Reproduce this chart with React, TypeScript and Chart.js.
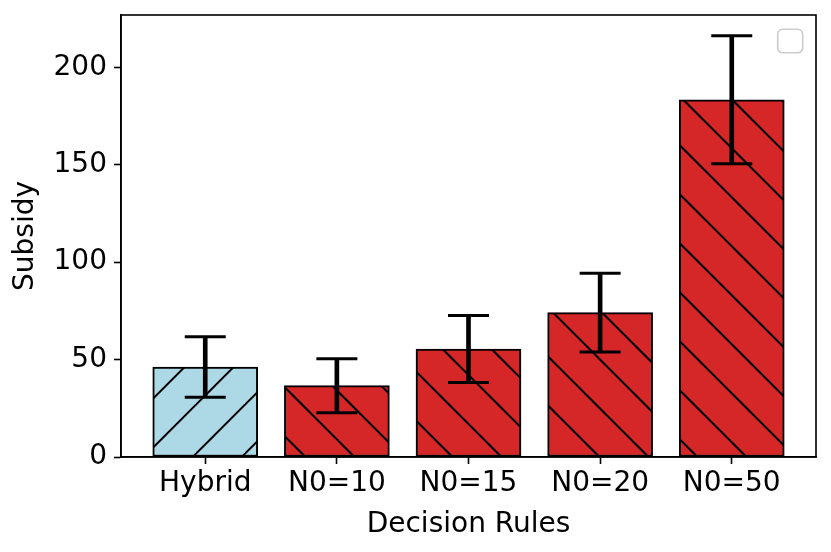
import { useEffect, useRef } from 'react';
import { Chart, registerables } from 'chart.js';

Chart.register(...registerables);

// values
const categories = ['Hybrid', 'N0=10', 'N0=15', 'N0=20', 'N0=50'];
const means = [46.2, 36.6, 55.4, 74.1, 183.4];
const errors = [15.5, 13.9, 17.2, 20.2, 32.9];
const yTicks = [0, 50, 100, 150, 200];

const HYBRID_COLOR = '#add8e6';
const RULE_COLOR = '#d62728';

function makeHatch(face: string, dir: '/' | '\\', phase: number) {
  const size = 49;
  const c = document.createElement('canvas');
  c.width = size;
  c.height = size;
  const g = c.getContext('2d')!;
  g.fillStyle = face;
  g.fillRect(0, 0, size, size);
  g.strokeStyle = '#000';
  g.lineWidth = 2;
  for (let k = -3; k <= 3; k++) {
    const C = phase + k * size;
    g.beginPath();
    if (dir === '/') {
      g.moveTo(C + 10, -10);
      g.lineTo(C - 60, 60);
    } else {
      g.moveTo(C - 10, -10);
      g.lineTo(C + 60, 60);
    }
    g.stroke();
  }
  return g.createPattern(c, 'repeat')!;
}

// frame on all four sides + the empty legend box
const framePlugin = {
  id: 'frame',
  afterDraw(chart: Chart) {
    const { ctx, chartArea: a } = chart;
    ctx.save();
    const w = 25, h = 23.5;
    const lx = a.right - 13.3 - w;
    const ly = a.top + 14.3;
    ctx.beginPath();
    ctx.roundRect(lx, ly, w, h, 5);
    ctx.fillStyle = 'rgba(255,255,255,0.8)';
    ctx.fill();
    ctx.strokeStyle = '#cccccc';
    ctx.lineWidth = 1.6;
    ctx.stroke();
    ctx.strokeStyle = '#000';
    ctx.lineWidth = 1.6;
    ctx.strokeRect(a.left, a.top, a.right - a.left, a.bottom - a.top);
    ctx.restore();
  },
};

const noEdgePadding = (scale: any) => {
  scale.paddingTop = 0;
  scale.paddingBottom = 0;
  scale.paddingLeft = 0;
  scale.paddingRight = 0;
};

export default function App() {
  const canvasRef = useRef<HTMLCanvasElement>(null);
  const chartRef = useRef<Chart | null>(null);

  useEffect(() => {
    document.body.style.margin = '0';
    if (!canvasRef.current) return;
    if (chartRef.current) chartRef.current.destroy();

    const hybridFill = makeHatch(HYBRID_COLOR, '/', 12.7);
    const ruleFill = makeHatch(RULE_COLOR, '\\', 44.5);

    Chart.defaults.font.family = "'DejaVu Sans', sans-serif";
    Chart.defaults.font.size = 28;
    Chart.defaults.color = '#000';

    const ctx = canvasRef.current.getContext('2d');
    if (!ctx) return;

    chartRef.current = new Chart(ctx, {
      type: 'bar',
      data: {
        datasets: [
          {
            type: 'scatter',
            data: categories.flatMap((_, i) => [
              { x: i, y: means[i] - errors[i] },
              { x: i, y: means[i] + errors[i] },
            ]),
            pointStyle: 'line',
            pointRadius: 20.5,
            pointHoverRadius: 20.5,
            borderColor: '#000',
            backgroundColor: '#000',
            borderWidth: 3,
            order: 1,
          } as any,
          {
            type: 'bar',
            data: categories.map((_, i) => ({ x: i, y: [means[i] - errors[i], means[i] + errors[i]] })),
            backgroundColor: '#000',
            borderWidth: 0,
            barThickness: 4,
            stack: 'one',
            order: 2,
          } as any,
          {
            type: 'bar',
            data: categories.map((_, i) => ({ x: i, y: means[i] })),
            backgroundColor: categories.map((_, i) => (i === 0 ? hybridFill : ruleFill)),
            borderColor: '#000',
            borderWidth: 2,
            borderSkipped: false,
            barThickness: 105,
            stack: 'one',
            order: 3,
          } as any,
        ],
      },
      options: {
        animation: false,
        responsive: true,
        maintainAspectRatio: false,
        devicePixelRatio: 1,
        layout: { autoPadding: false, padding: { left: 9.2, top: 15, right: 15, bottom: 10.2 } },
        plugins: {
          legend: { display: false },
          tooltip: { enabled: false },
        },
        scales: {
          x: {
            type: 'linear',
            min: -0.64,
            max: 4.64,
            offset: false,
            stacked: true,
            afterBuildTicks: (scale: any) => {
              scale.ticks = categories.map((_, i) => ({ value: i }));
            },
            afterFit: (scale: any) => {
              scale.height = 84.8;
              noEdgePadding(scale);
            },
            ticks: {
              callback: (v: any) => categories[Math.round(Number(v))] ?? '',
              padding: 3,
              maxRotation: 0,
              autoSkip: false,
            },
            grid: {
              offset: false,
              drawOnChartArea: false,
              tickLength: 7,
              tickWidth: 1.6,
              tickColor: '#000',
            },
            border: { color: '#000', width: 1.6 },
            title: { display: true, text: 'Decision Rules', padding: 0 },
          },
          y: {
            type: 'linear',
            min: 0,
            max: 226.9,
            stacked: false,
            afterBuildTicks: (scale: any) => {
              scale.ticks = yTicks.map((v) => ({ value: v }));
            },
            afterFit: (scale: any) => {
              scale.width = 111.8;
              noEdgePadding(scale);
            },
            ticks: { padding: 7 },
            grid: {
              drawOnChartArea: false,
              tickLength: 7,
              tickWidth: 1.6,
              tickColor: '#000',
            },
            border: { color: '#000', width: 1.6 },
            title: { display: true, text: 'Subsidy', padding: 0 },
          },
        },
      } as any,
      plugins: [framePlugin],
    });

    return () => {
      if (chartRef.current) {
        chartRef.current.destroy();
        chartRef.current = null;
      }
    };
  }, []);

  return (
    <div style={{ width: 831, height: 552, position: 'relative' }}>
      <canvas ref={canvasRef}></canvas>
    </div>
  );
}
